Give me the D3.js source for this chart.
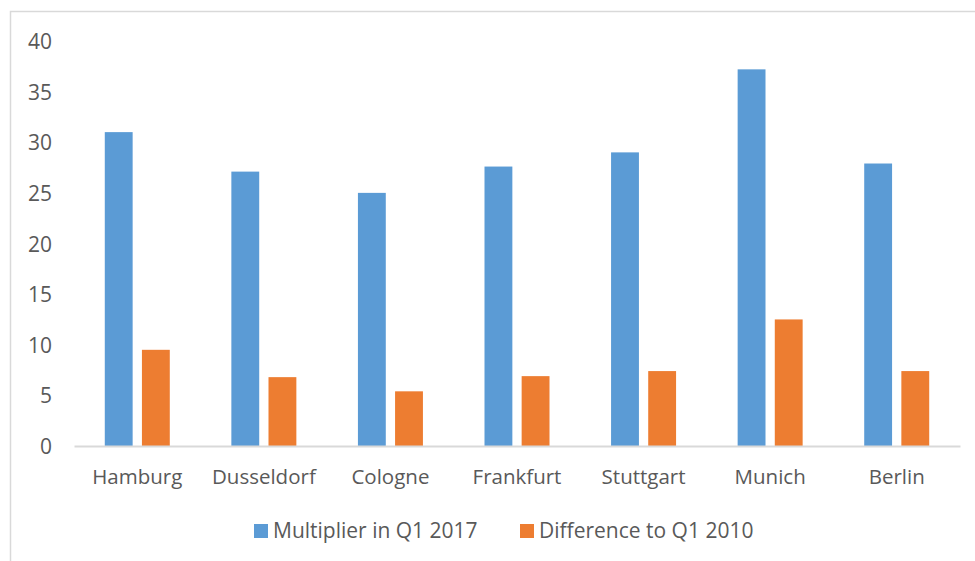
<!DOCTYPE html>
<html><head><meta charset="utf-8">
<script src="https://cdn.jsdelivr.net/npm/d3@7"></script>
<style>body{margin:0;background:#fff}svg{display:block}text{font-family:"Open Sans",sans-serif;fill:#595959}</style>
</head><body><svg id="c" width="975" height="561"></svg>
<script>
const cities = ["Hamburg","Dusseldorf","Cologne","Frankfurt","Stuttgart","Munich","Berlin"];
const multiplier = [31.0, 27.1, 25.0, 27.6, 29.0, 37.2, 27.9];
const difference = [9.5, 6.8, 5.4, 6.9, 7.4, 12.5, 7.4];
const seriesNames = ["Multiplier in Q1 2017", "Difference to Q1 2010"];
const colors = ["#5B9BD5", "#ED7D31"];
const yTicks = [0,5,10,15,20,25,30,35,40];

const svg = d3.select("#c");
svg.append("rect").attr("x",10.5).attr("y",11.5).attr("width",1000).attr("height",1000)
  .attr("fill","#fff").attr("stroke","#d9d9d9").attr("stroke-width",1.5);

const x = d3.scaleBand().domain(cities).range([74,960]).paddingInner(0).paddingOuter(0);
const y = d3.scaleLinear().domain([0,40]).range([446,41]);
const sub = d3.scaleBand().domain([0,1]).range([x.bandwidth()/2-32.5, x.bandwidth()/2+32.5]).paddingInner(0.25);

const yAxis = svg.append("g").attr("transform","translate(52,0)")
  .call(d3.axisLeft(y).tickValues(yTicks).tickSize(0).tickPadding(0));
yAxis.select(".domain").remove();
yAxis.selectAll("text").style("font-size","21px").attr("dy","0.36em").style("fill","#595959").style("font-family","'Open Sans',sans-serif");

const data = [multiplier, difference];
const g = svg.append("g");
data.forEach((vals,si)=>{
  g.selectAll(null).data(cities).join("rect")
    .attr("x", c => x(c)+sub(si))
    .attr("width", sub.bandwidth())
    .attr("y", (c,i)=>y(vals[i]))
    .attr("height", (c,i)=>y(0)-y(vals[i]))
    .attr("fill", colors[si]);
});

const xAxis = svg.append("g").attr("transform","translate(0,446)")
  .call(d3.axisBottom(x).tickSize(0).tickPadding(23));
xAxis.select(".domain").attr("stroke","#d9d9d9").attr("stroke-width",2);
xAxis.selectAll("text").style("font-size","20.5px").style("fill","#595959").style("font-family","'Open Sans',sans-serif");

const leg = svg.append("g");
const legX = [254, 520];
seriesNames.forEach((n,i)=>{
  leg.append("rect").attr("x",legX[i]).attr("y",524).attr("width",14).attr("height",14).attr("fill",colors[i]);
  leg.append("text").attr("x",legX[i]+19).attr("y",538).style("font-size","21px").text(n);
});
</script></body></html>
